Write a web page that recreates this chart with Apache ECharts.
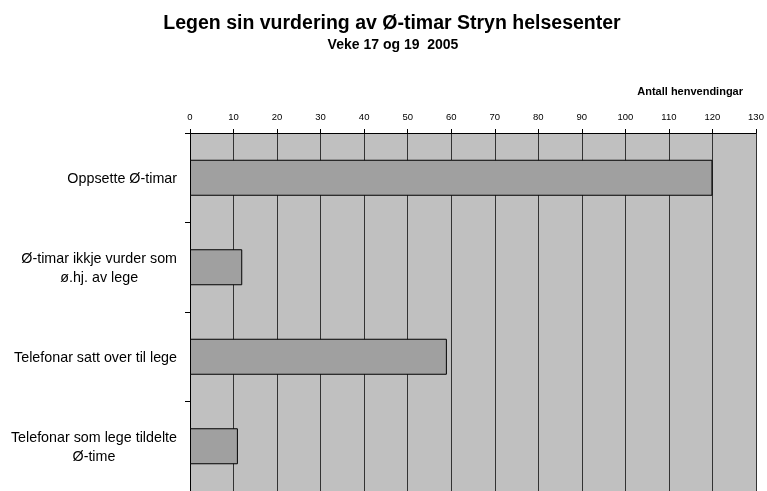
<!DOCTYPE html>
<html><head><meta charset="utf-8">
<script src="https://cdn.jsdelivr.net/npm/echarts@6/dist/echarts.min.js"></script>
<style>html,body{margin:0;padding:0;background:#fff}#c{width:767px;height:491px}</style>
</head><body><div id="c"></div>
<script>
const categories = ["Oppsette Ø-timar", "Ø-timar ikkje vurder som\nø.hj. av lege", "Telefonar satt over til lege", "Telefonar som lege tildelte\nØ-time"];
const values = [120, 12, 59, 11];
const titleText = "Legen sin vurdering av Ø-timar Stryn helsesenter";
const subtitleText = "Veke 17 og 19  2005";
const axisName = "Antall henvendingar";

const chart = echarts.init(document.getElementById('c'), null, {renderer: 'canvas'});
const F = 'Liberation Sans, Arial, sans-serif';
const LS = 14.3;
chart.setOption({
  animation: false,
  backgroundColor: '#fff',
  title: [
    {text: titleText, left: 387, top: 9, textAlign: 'center',
     textStyle: {fontFamily: F, fontSize: 19.5, fontWeight: 'bold', color: '#000'}},
    {text: subtitleText, left: 388, top: 33, textAlign: 'center',
     textStyle: {fontFamily: F, fontSize: 14, fontWeight: 'bold', color: '#000'}},
    {text: axisName, right: 19, top: 81,
     textStyle: {fontFamily: F, fontSize: 11, fontWeight: 'bold', color: '#000'}}
  ],
  grid: {left: 190, top: 133, width: 566, height: 362, show: true, backgroundColor: '#c0c0c0', borderWidth: 0},
  xAxis: {
    type: 'value', position: 'top', min: 0, max: 130, interval: 10,
    axisLine: {show: true, lineStyle: {color: '#000', width: 1}},
    axisTick: {show: true, length: 4, lineStyle: {color: '#000'}},
    axisLabel: {fontFamily: F, fontSize: 9.5, color: '#000', margin: 11},
    splitLine: {show: true, lineStyle: {color: '#333', width: 1}}
  },
  yAxis: {
    type: 'category', data: categories, inverse: true,
    axisLine: {show: true, lineStyle: {color: '#000', width: 1}},
    axisTick: {show: true, length: 5, lineStyle: {color: '#000'}},
    axisLabel: {
      fontFamily: F, fontSize: LS, color: '#000', margin: 13, align: 'right', lineHeight: 19,
      padding: [3, 0, 0, 0],
      formatter: function (v) { return v.split('\n').map(s => '{c|' + s + '}').join('\n'); },
      rich: {c: {align: 'center', fontFamily: F, fontSize: LS, color: '#000', lineHeight: 19}}
    },
    splitLine: {show: false}
  },
  series: [{
    type: 'bar', data: values, barWidth: 36,
    itemStyle: {color: '#a0a0a0', borderColor: '#000', borderWidth: 1}
  }]
});
</script></body></html>
